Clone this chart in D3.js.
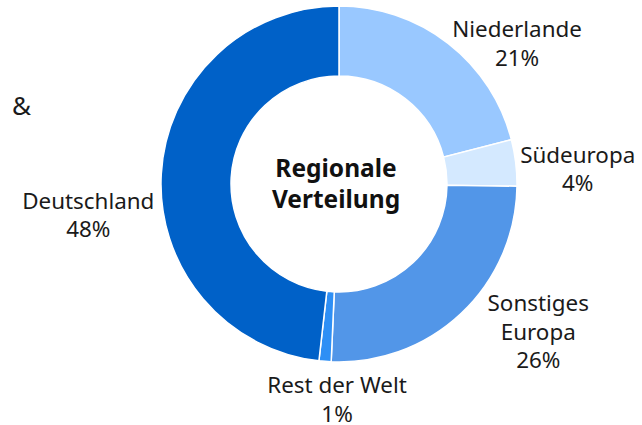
<!DOCTYPE html>
<html><head><meta charset="utf-8">
<script src="https://cdn.jsdelivr.net/npm/d3@7"></script>
<style>body{margin:0;background:#fff;}svg{display:block;}</style>
</head><body>
<svg id="chart" width="642" height="425"></svg>
<script>
// Data
const categories = ["Niederlande", "Südeuropa", "Sonstiges Europa", "Rest der Welt", "Deutschland"];
const values = [21.0, 4.2, 25.5, 1.1, 48.2];
const percentLabels = ["21%", "4%", "26%", "1%", "48%"];
const labelLines = [["Niederlande"], ["Südeuropa"], ["Sonstiges", "Europa"], ["Rest der Welt"], ["Deutschland"]];
const colors = ["#99C8FF", "#D4E9FF", "#5296E8", "#2E8FF5", "#0061C8"];
const centerTitle = ["Regionale", "Verteilung"];

// Layout (not data)
const W = 642, H = 425;
const cx = 339, cy = 184, rOuter = 178, rInner = 108;
// offsets of label text (center x, first baseline) from arc mid point at outer radius
const labelOffsets = [[69, -6], [62, 0], [77, -2], [12, 32], [-73, 35]];
const lineH = 28.5;

const svg = d3.select("#chart");
const g = svg.append("g").attr("transform", `translate(${cx},${cy})`);

const pie = d3.pie().sort(null).value(d => d)(values);
const arc = d3.arc().innerRadius(rInner).outerRadius(rOuter);

g.selectAll("path.slice").data(pie).join("path")
  .attr("class", "slice")
  .attr("d", arc)
  .attr("fill", (d, i) => colors[i])
  .attr("stroke", "#fff")
  .attr("stroke-width", 1.5);

const font = "'Noto Sans', 'Open Sans', sans-serif";

pie.forEach((d, i) => {
  const a = (d.startAngle + d.endAngle) / 2;
  const ax = rOuter * Math.sin(a), ay = -rOuter * Math.cos(a);
  const x = ax + labelOffsets[i][0], y = ay + labelOffsets[i][1];
  const lines = labelLines[i].concat([percentLabels[i]]);
  const t = g.append("text")
    .attr("text-anchor", "middle")
    .attr("font-family", font)
    .attr("font-size", 22.4)
    .attr("fill", "#1a1a1a");
  lines.forEach((l, j) => {
    t.append("tspan").attr("x", x).attr("y", y + j * lineH).text(l);
  });
});

const ct = g.append("text")
  .attr("text-anchor", "middle")
  .attr("font-family", font)
  .attr("font-weight", "bold")
  .attr("font-size", 24.5)
  .attr("fill", "#111");
centerTitle.forEach((l, j) => {
  ct.append("tspan").attr("x", -3).attr("y", -7 + j * 31).text(l);
});

svg.append("text")
  .attr("x", 12).attr("y", 115)
  .attr("font-family", font)
  .attr("font-size", 26)
  .attr("fill", "#1a1a1a")
  .text("&");
</script>
</body></html>
